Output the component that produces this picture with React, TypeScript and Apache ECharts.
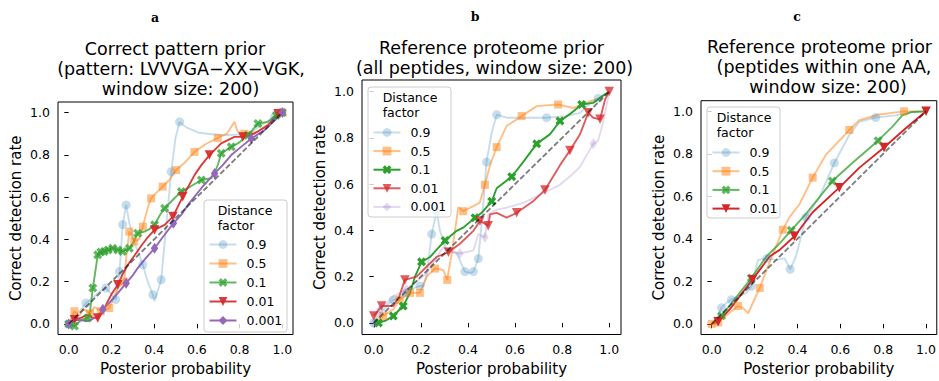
import React, { useEffect, useRef } from "react";
import * as echarts from "echarts";

// ---------- data (x = posterior probability, y = correct detection rate, m = marker drawn) ----------
type Pt = [number, number, number];

const tickValues = [0, 0.2, 0.4, 0.6, 0.8, 1.0];
const factorLabels = ["0.9", "0.5", "0.1", "0.01", "0.001"];

// Panel a – correct pattern prior
const a_09: Pt[] = [[0,0,1],[0.03,0.04,0],[0.06,0.07,0],[0.081,0.099,1],[0.11,0.12,0],[0.14,0.15,0],[0.175,0.17,1],[0.2,0.14,0],[0.22,0.115,1],[0.238,0.248,1],[0.253,0.47,1],[0.269,0.563,1],[0.28,0.5,0],[0.284,0.476,0],[0.31,0.38,0],[0.347,0.28,1],[0.37,0.2,0],[0.394,0.138,1],[0.402,0.107,0],[0.433,0.209,1],[0.455,0.45,0],[0.48,0.72,1],[0.5,0.88,0],[0.519,0.956,1],[0.55,0.93,0],[0.605,0.906,0],[0.65,0.9,0],[0.714,0.893,0],[0.808,0.896,0],[0.86,0.91,0],[0.9,0.94,0],[0.964,0.98,1],[1,1,0]];
const a_05: Pt[] = [[0,0,0],[0.027,0.06,1],[0.05,0.04,0],[0.07,0.07,0],[0.1,0.05,1],[0.12,0.08,0],[0.15,0.06,1],[0.19,0.075,1],[0.2,0.1,0],[0.23,0.17,0],[0.26,0.2,1],[0.27,0.32,0],[0.284,0.437,1],[0.307,0.39,1],[0.33,0.4,0],[0.347,0.46,1],[0.37,0.55,0],[0.386,0.594,1],[0.41,0.62,0],[0.44,0.65,1],[0.47,0.68,0],[0.503,0.728,1],[0.54,0.76,0],[0.589,0.814,1],[0.64,0.85,0],[0.698,0.88,1],[0.74,0.9,0],[0.776,0.956,0],[0.79,0.91,0],[0.823,0.9,1],[0.886,0.91,0],[0.94,0.95,0],[1,1,1]];
const a_01: Pt[] = [[0,0,1],[0.027,-0.01,1],[0.06,0.02,0],[0.089,0.028,1],[0.1,0.06,0],[0.113,0.17,1],[0.125,0.25,0],[0.136,0.327,1],[0.15,0.34,1],[0.167,0.343,1],[0.185,0.35,1],[0.206,0.358,1],[0.23,0.35,1],[0.253,0.343,1],[0.27,0.35,0],[0.284,0.358,1],[0.3,0.38,0],[0.323,0.429,1],[0.355,0.437,0],[0.38,0.45,0],[0.402,0.469,1],[0.43,0.52,0],[0.449,0.547,1],[0.49,0.59,0],[0.527,0.626,1],[0.57,0.65,0],[0.621,0.681,1],[0.667,0.689,0],[0.685,0.72,0],[0.698,0.752,0],[0.714,0.807,1],[0.761,0.838,1],[0.792,0.854,0],[0.839,0.893,1],[0.886,0.948,1],[0.933,0.956,0],[0.972,0.987,1],[1,1,1]];
const a_001: Pt[] = [[0,0,0],[0.027,0.02,1],[0.06,0.03,0],[0.089,0.044,0],[0.11,0.03,0],[0.136,0.028,1],[0.16,0.06,0],[0.183,0.107,0],[0.2,0.14,0],[0.23,0.185,1],[0.255,0.24,0],[0.277,0.28,0],[0.308,0.324,0],[0.34,0.37,0],[0.37,0.41,0],[0.402,0.445,1],[0.449,0.469,0],[0.488,0.508,1],[0.534,0.602,1],[0.589,0.704,0],[0.62,0.75,0],[0.659,0.799,1],[0.714,0.854,0],[0.776,0.885,0],[0.815,0.885,1],[0.87,0.901,0],[0.933,0.94,0],[0.98,0.995,1],[1,1,0]];
const a_0001: Pt[] = [[0,0,1],[0.04,0.02,0],[0.089,0.013,0],[0.136,0.036,0],[0.16,0.07,1],[0.183,0.091,0],[0.23,0.146,0],[0.269,0.193,1],[0.3,0.23,0],[0.323,0.264,0],[0.36,0.31,0],[0.402,0.358,1],[0.44,0.41,0],[0.49,0.476,1],[0.53,0.52,0],[0.558,0.563,0],[0.621,0.642,0],[0.683,0.712,1],[0.72,0.75,0],[0.761,0.799,0],[0.81,0.84,0],[0.855,0.877,1],[0.917,0.917,0],[0.972,0.972,0],[1,1,1]];

// Panel b – reference proteome prior (all peptides)
const b_09: Pt[] = [[0,0,1],[0.03,0.04,0],[0.06,0.08,0],[0.083,0.1,1],[0.11,0.11,0],[0.139,0.13,1],[0.17,0.15,0],[0.196,0.16,1],[0.21,0.158,0],[0.224,0.2,0],[0.246,0.384,1],[0.267,0.483,1],[0.281,0.398,0],[0.31,0.313,0],[0.352,0.3,0],[0.387,0.222,1],[0.41,0.215,0],[0.423,0.222,1],[0.444,0.278,1],[0.458,0.427,0],[0.479,0.696,1],[0.501,0.823,0],[0.522,0.9,1],[0.564,0.887,0],[0.649,0.887,0],[0.734,0.887,1],[0.819,0.894,0],[0.876,0.908,0],[0.92,0.95,0],[0.953,0.971,1],[1,1,0]];
const b_05: Pt[] = [[0,0,0],[0.04,0.03,1],[0.083,0.059,0],[0.11,0.1,1],[0.154,0.13,1],[0.196,0.13,1],[0.224,0.2,0],[0.26,0.235,1],[0.295,0.229,0],[0.312,0.186,1],[0.331,0.3,0],[0.345,0.4,0],[0.359,0.5,0],[0.38,0.483,1],[0.423,0.505,0],[0.45,0.52,0],[0.472,0.597,1],[0.494,0.682,0],[0.522,0.76,1],[0.564,0.851,0],[0.628,0.894,1],[0.692,0.937,0],[0.783,0.944,1],[0.847,0.929,0],[0.918,0.958,0],[0.96,0.97,0],[1,1,0]];
const b_01: Pt[] = [[0,0,0],[0.02,0,1],[0.05,0.01,0],[0.083,0.03,1],[0.125,0.073,1],[0.154,0.13,0],[0.175,0.2,0],[0.203,0.264,1],[0.239,0.285,0],[0.27,0.32,0],[0.303,0.356,1],[0.352,0.398,0],[0.38,0.412,0],[0.43,0.455,1],[0.458,0.476,0],[0.501,0.526,1],[0.522,0.582,0],[0.586,0.632,1],[0.635,0.696,0],[0.692,0.774,1],[0.749,0.816,0],[0.791,0.873,1],[0.84,0.908,0],[0.883,0.944,1],[0.932,0.951,0],[0.97,0.98,0],[1,1,0]];
const b_001: Pt[] = [[0,0.03,1],[0.033,0.073,1],[0.083,0.073,0],[0.11,0.12,0],[0.132,0.186,1],[0.182,0.2,0],[0.224,0.243,0],[0.267,0.285,0],[0.317,0.306,1],[0.366,0.342,0],[0.423,0.398,0],[0.451,0.441,1],[0.486,0.42,1],[0.494,0.469,0],[0.522,0.476,0],[0.564,0.455,0],[0.607,0.476,1],[0.677,0.526,0],[0.727,0.575,1],[0.791,0.682,0],[0.833,0.745,1],[0.876,0.816,0],[0.911,0.908,1],[0.932,0.887,0],[0.961,0.88,1],[0.982,0.965,0],[1,1,1]];
const b_0001: Pt[] = [[0,0,1],[0.026,0.059,1],[0.083,0.115,0],[0.139,0.144,1],[0.224,0.215,0],[0.295,0.328,0],[0.33,0.31,0],[0.366,0.3,1],[0.423,0.313,0],[0.444,0.384,0],[0.472,0.37,1],[0.486,0.469,0],[0.522,0.49,0],[0.564,0.498,0],[0.635,0.519,0],[0.706,0.554,0],[0.734,0.568,0],[0.791,0.597,0],[0.84,0.639,0],[0.876,0.675,0],[0.932,0.774,1],[0.953,0.788,0],[0.974,0.866,0],[1,1,0]];

// Panel c – reference proteome prior (peptides within one AA)
const c_09: Pt[] = [[0,0,0],[0.02,0.02,0],[0.046,0.076,1],[0.07,0.1,0],[0.092,0.114,1],[0.108,0.122,0],[0.162,0.146,0],[0.185,0.177,1],[0.216,0.301,0],[0.258,0.308,1],[0.301,0.301,0],[0.34,0.308,0],[0.366,0.257,1],[0.393,0.317,0],[0.44,0.502,1],[0.502,0.595,0],[0.572,0.757,1],[0.642,0.889,0],[0.688,0.95,0],[0.765,0.971,1],[0.858,0.981,0],[0.935,0.997,0],[1,1,0]];
const c_05: Pt[] = [[0,0,1],[0.03,0.007,1],[0.085,0.053,0],[0.123,0.084,1],[0.145,0.075,0],[0.17,0.05,0],[0.224,0.169,1],[0.262,0.27,0],[0.332,0.443,1],[0.363,0.502,0],[0.41,0.564,0],[0.471,0.688,1],[0.533,0.796,0],[0.642,0.912,1],[0.688,0.958,0],[0.781,0.985,0],[0.897,1.0,1],[1,1,0]];
const c_01: Pt[] = [[0,0,0],[0.046,0.038,1],[0.1,0.107,0],[0.185,0.216,1],[0.255,0.317,0],[0.317,0.379,0],[0.371,0.44,1],[0.44,0.518,0],[0.563,0.672,1],[0.656,0.757,0],[0.776,0.862,1],[0.842,0.927,0],[0.889,0.981,0],[0.935,0.997,0],[1,1,0]];
const c_001: Pt[] = [[0,0,0],[0.03,0.01,1],[0.085,0.069,0],[0.19,0.208,1],[0.27,0.317,0],[0.317,0.348,0],[0.386,0.412,1],[0.471,0.525,0],[0.595,0.641,1],[0.688,0.734,0],[0.804,0.83,1],[0.905,0.92,0],[1,1,1]];

const diagonal = [[0, 0], [1, 1]];

// ---------- styles ----------
const FONT = "'DejaVu Sans', sans-serif";
const X_SYMBOL = "path://M2.6,0 L5,2.4 L7.4,0 L10,2.6 L7.6,5 L10,7.4 L7.4,10 L5,7.6 L2.6,10 L0,7.4 L2.4,5 L0,2.6 Z";
const STYLE: Record<string, { color: string; symbol: string; rotate: number; size: number | number[] }> = {
  "0.9": { color: "#1f77b4", symbol: "circle", rotate: 0, size: 9 },
  "0.5": { color: "#ff7f0e", symbol: "rect", rotate: 0, size: 8 },
  "0.1": { color: "#2ca02c", symbol: X_SYMBOL, rotate: 0, size: 9 },
  "0.01": { color: "#d62728", symbol: "triangle", rotate: 180, size: 9.5 },
  "0.001": { color: "#9467bd", symbol: "diamond", rotate: 0, size: [7.5, 11] },
};

const panels = [
  {
    key: "a",
    grid: { left: 58, top: 102, width: 235, height: 234 },
    series: [
      { f: "0.9", data: a_09, alpha: 0.25 },
      { f: "0.5", data: a_05, alpha: 0.5 },
      { f: "0.1", data: a_01, alpha: 0.75 },
      { f: "0.01", data: a_001, alpha: 0.9 },
      { f: "0.001", data: a_0001, alpha: 1 },
    ],
    title: [
      { t: "Correct pattern prior", x: 175, y: 49 },
      { t: "(pattern: LVVVGA\u2212XX\u2212VGK,", x: 181, y: 69 },
      { t: "window size: 200)", x: 180.5, y: 88.5 },
    ],
    letter: { t: "a", x: 155, y: 17 },
    box: { x: 204, y: 200, w: 83, h: 132 },
    legendTitleX: 217.7,
    legendTitleY: 210,
    firstItemY: 243,
    itemStep: 19,
  },
  {
    key: "b",
    grid: { left: 362, top: 80, width: 259, height: 259 },
    series: [
      { f: "0.9", data: b_09, alpha: 0.25 },
      { f: "0.5", data: b_05, alpha: 0.5 },
      { f: "0.1", data: b_01, alpha: 1 },
      { f: "0.01", data: b_001, alpha: 0.75 },
      { f: "0.001", data: b_0001, alpha: 0.25 },
    ],
    title: [
      { t: "Reference proteome prior", x: 491.5, y: 47.5 },
      { t: "(all peptides, window size: 200)", x: 494.5, y: 67.5 },
    ],
    letter: { t: "b", x: 475, y: 16 },
    box: { x: 368, y: 87, w: 83, h: 130 },
    legendTitleX: 382.7,
    legendTitleY: 97,
    firstItemY: 131,
    itemStep: 18.6,
  },
  {
    key: "c",
    grid: { left: 701, top: 100.7, width: 237, height: 238.3 },
    series: [
      { f: "0.9", data: c_09, alpha: 0.25 },
      { f: "0.5", data: c_05, alpha: 0.5 },
      { f: "0.1", data: c_01, alpha: 0.75 },
      { f: "0.01", data: c_001, alpha: 1 },
    ],
    title: [
      { t: "Reference proteome prior", x: 819.5, y: 47 },
      { t: "(peptides within one AA,", x: 824, y: 67 },
      { t: "window size: 200)", x: 828, y: 87 },
    ],
    letter: { t: "c", x: 797, y: 16 },
    box: { x: 707, y: 107, w: 73, h: 111 },
    legendTitleX: 716.7,
    legendTitleY: 117,
    firstItemY: 151,
    itemStep: 18.7,
  },
];

function buildOption(): any {
  const grid: any[] = [];
  const xAxis: any[] = [];
  const yAxis: any[] = [];
  const series: any[] = [];
  const legend: any[] = [];
  const graphic: any[] = [];

  panels.forEach((p, i) => {
    grid.push({ ...p.grid, show: true, borderColor: "#000", borderWidth: 1, backgroundColor: "transparent", containLabel: false });
    const axisCommon = {
      type: "value",
      gridIndex: i,
      min: -0.05,
      max: 1.05,
      axisLine: { show: false },
      splitLine: { show: false },
      axisTick: { show: true, customValues: tickValues, length: 4.4, inside: false, lineStyle: { color: "#000", width: 1 } },
      axisLabel: { customValues: tickValues, formatter: (v: number) => v.toFixed(1), color: "#000", fontSize: 12.5, fontFamily: FONT, margin: 8 },
      nameLocation: "middle",
      nameTextStyle: { color: "#000", fontSize: 15, fontFamily: FONT },
    };
    xAxis.push({ ...axisCommon, name: "Posterior probability", nameGap: 26.5 });
    yAxis.push({ ...axisCommon, name: "Correct detection rate", nameGap: 34.5 });

    p.series.forEach((s) => {
      const st = STYLE[s.f];
      series.push({
        type: "line",
        name: `${p.key}|${s.f}`,
        xAxisIndex: i,
        yAxisIndex: i,
        data: s.data,
        symbol: st.symbol,
        symbolRotate: st.rotate,
        symbolSize: (v: number[]) => (v[2] ? st.size : 0),
        showSymbol: true,
        lineStyle: { color: st.color, width: 1.9, opacity: s.alpha },
        itemStyle: { color: st.color, opacity: s.alpha },
        emphasis: { disabled: true },
        z: 2,
      });
    });
    series.push({
      type: "line",
      name: `${p.key}|diag`,
      xAxisIndex: i,
      yAxisIndex: i,
      data: diagonal,
      symbol: "none",
      lineStyle: { color: "#000", opacity: 0.5, width: 1.9, type: [5.5, 2.4] },
      emphasis: { disabled: true },
      z: 3,
    });

    const itemH = 11;
    legend.push({
      show: true,
      orient: "vertical",
      left: p.box.x,
      top: p.box.y,
      padding: [p.firstItemY - p.box.y - itemH / 2, 6, 4, 4.5],
      itemWidth: 27,
      itemHeight: itemH,
      itemGap: p.itemStep - 14,
      selectedMode: false,
      data: p.series.map((s) => `${p.key}|${s.f}`),
      formatter: (name: string) => name.split("|")[1],
      textStyle: { color: "#000", fontSize: 12.5, fontFamily: FONT, lineHeight: 14, padding: [0, 0, 0, 5] },
      z: 20,
    });

    graphic.push({
      type: "rect",
      z: 10,
      shape: { x: p.box.x, y: p.box.y, width: p.box.w, height: p.box.h, r: 3 },
      style: { fill: "rgba(255,255,255,0.8)", stroke: "#cccccc", lineWidth: 1 },
    });
    graphic.push({
      type: "text",
      z: 21,
      x: p.legendTitleX,
      y: p.legendTitleY - 7.5,
      style: { text: "Distance\nfactor", fontSize: 12.5, fontFamily: FONT, fill: "#000", align: "left", verticalAlign: "top", lineHeight: 15 },
    });
    p.title.forEach((t) => {
      graphic.push({
        type: "text",
        z: 21,
        x: t.x,
        y: t.y,
        style: { text: t.t, fontSize: 17.5, fontFamily: FONT, fill: "#000", align: "center", verticalAlign: "middle" },
      });
    });
    graphic.push({
      type: "text",
      z: 21,
      x: p.letter.x,
      y: p.letter.y,
      style: { text: p.letter.t, fontSize: 12.5, fontWeight: "bold", fontFamily: "'DejaVu Serif', serif", fill: "#000", align: "center", verticalAlign: "middle" },
    });
  });

  return { animation: false, grid, xAxis, yAxis, series, legend, graphic };
}

export default function App() {
  const ref = useRef<HTMLDivElement>(null);
  useEffect(() => {
    if (!ref.current) return;
    const chart = echarts.init(ref.current, null, { renderer: "svg" });
    chart.setOption(buildOption());
    return () => chart.dispose();
  }, []);
  return <div ref={ref} style={{ position: "fixed", left: 0, top: 0, width: 939, height: 381, background: "#fff" }} />;
}
